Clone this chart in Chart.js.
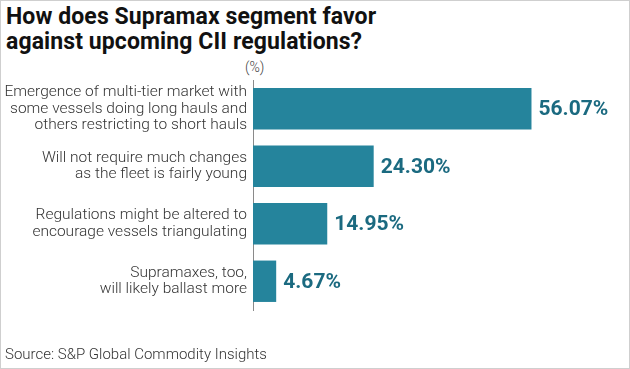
<!DOCTYPE html>
<html>
<head>
<meta charset="utf-8">
<script src="https://cdn.jsdelivr.net/npm/chart.js@4"></script>
<style>
  html, body { margin: 0; padding: 0; background: #fff; }
  #frame {
    position: relative;
    width: 628px;
    height: 367px;
    border: 1px solid #cfcfcf;
    font-family: Roboto, 'Noto Sans', sans-serif;
    overflow: hidden;
  }
  #title {
    position: absolute;
    left: 5px;
    top: 3px;
    font-size: 23px;
    font-weight: bold;
    line-height: 25px;
    color: #111;
    letter-spacing: 0.1px;
  }
  #unit {
    position: absolute;
    left: 244px;
    top: 58px;
    font-size: 14px;
    line-height: 16px;
    color: #444;
    font-weight: 300;
  }
  #source {
    position: absolute;
    left: 4px;
    top: 344px;
    font-size: 15px;
    color: #333;
    font-weight: 300;
  }
  #chartBox {
    position: absolute;
    left: -1px;
    top: -1px;
    width: 630px;
    height: 369px;
  }
</style>
</head>
<body>
<div id="frame">
  <div id="title">How does Supramax segment favor<br>against upcoming CII regulations?</div>
  <div id="unit">(%)</div>
  <div id="chartBox"><canvas id="chart"></canvas></div>
  <div id="source">Source: S&amp;P Global Commodity Insights</div>
</div>
<script>
const categories = [
  ['Emergence of multi-tier market with', 'some vessels doing long hauls and', 'others restricting to short hauls'],
  ['Will not require much changes', 'as the fleet is fairly young'],
  ['Regulations might be altered to', 'encourage vessels triangulating'],
  ['Supramaxes, too,', 'will likely ballast more']
]
const shares = [56.07, 24.30, 14.95, 4.67]

// draws the "56.07%" labels at the bar ends
const valueLabels = {
  id: 'valueLabels',
  afterDatasetsDraw(chart) {
    const ctx = chart.ctx
    const meta = chart.getDatasetMeta(0)
    ctx.save()
    ctx.font = 'bold 21px Roboto, sans-serif'
    ctx.fillStyle = '#1b6a80'
    ctx.textBaseline = 'middle'
    meta.data.forEach((bar, i) => {
      ctx.fillText(shares[i].toFixed(2) + '%', bar.x + 7, bar.y + 1)
    })
    ctx.restore()
  }
}

new Chart(document.getElementById('chart'), {
  type: 'bar',
  data: {
    labels: categories,
    datasets: [{
      data: shares,
      backgroundColor: '#25849c',
      barPercentage: 0.8,
      categoryPercentage: 0.9
    }]
  },
  options: {
    indexAxis: 'y',
    responsive: true,
    maintainAspectRatio: false,
    animation: false,
    layout: { padding: { top: 80, bottom: 59, left: 0, right: 79 } },
    plugins: {
      legend: { display: false },
      tooltip: { enabled: false }
    },
    scales: {
      x: {
        min: 0,
        max: 60,
        display: false
      },
      y: {
        afterFit(scale) { scale.width = 253 },
        grid: { display: false, drawTicks: false },
        border: { display: true, color: '#8a8a8a', width: 1 },
        ticks: {
          padding: 6,
          color: '#333',
          font: { family: 'Roboto, sans-serif', size: 15.5, weight: 300, lineHeight: 1.06 }
        }
      }
    }
  },
  plugins: [valueLabels]
})
</script>
</body>
</html>
